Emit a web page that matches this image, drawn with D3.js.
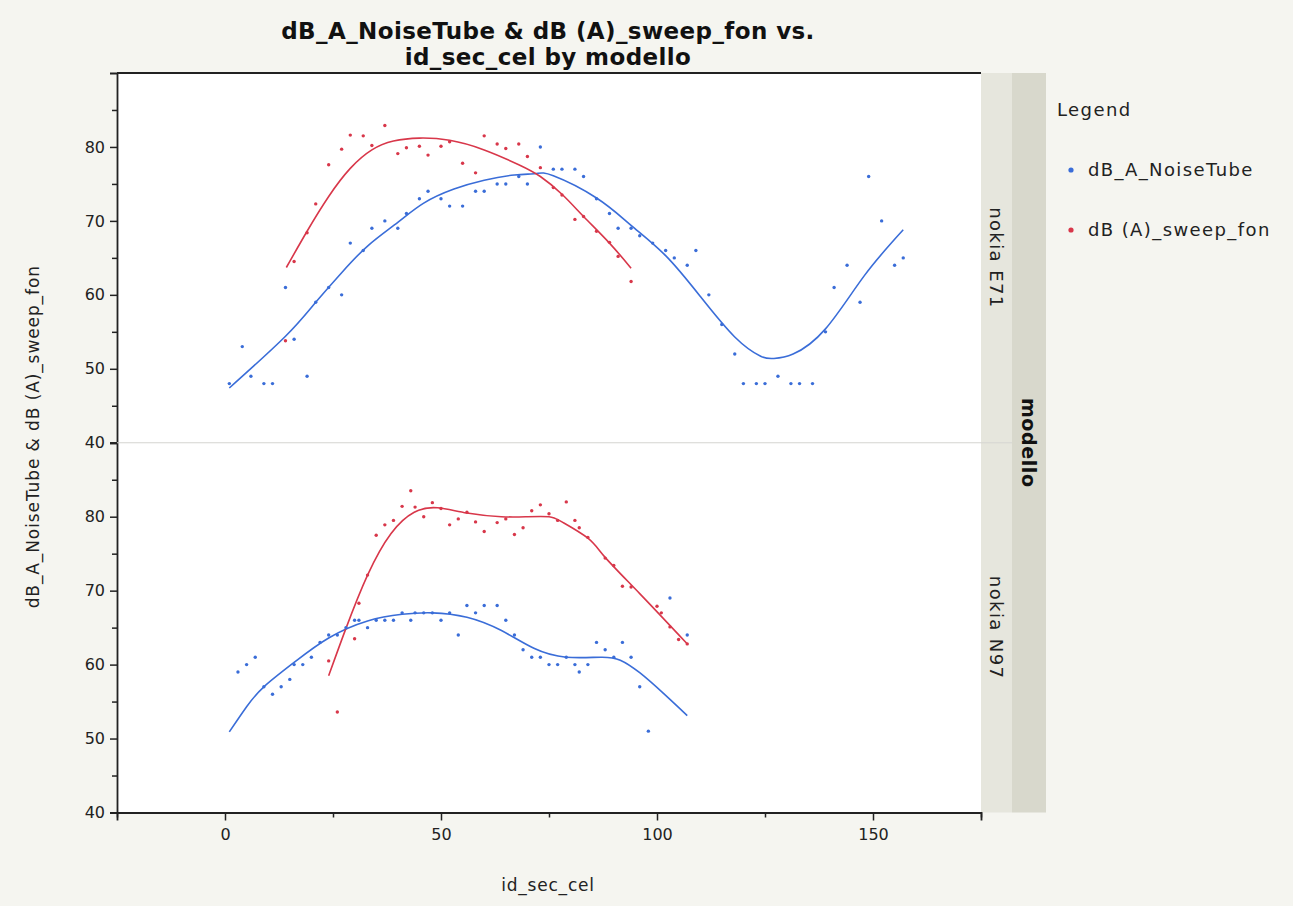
<!DOCTYPE html>
<html>
<head>
<meta charset="utf-8">
<script src="https://cdn.jsdelivr.net/npm/d3@7"></script>
<style>
  body { margin: 0; background: #f5f5f0; }
  svg { display: block; }
</style>
</head>
<body>
<div id="chart"></div>
<script>
// facets and series
const panels = ['nokia E71', 'nokia N97'];
const seriesNames = ['dB_A_NoiseTube', 'dB (A)_sweep_fon'];
const seriesColors = ['#3a6dd8', '#d8374a'];

const xTicks = [0, 50, 100, 150];
const xMinorTicks = [-25, 25, 75, 125, 175];
const yTicks = [40, 50, 60, 70, 80];
const yMinorTicks = [45, 55, 65, 75, 85];

// nokia E71 points [id_sec_cel, dB]
const e71NoiseTube = [[1,48],[4,53],[6,49],[9,48],[11,48],[14,61],[16,54],[19,49],[21,59],[24,61],
  [27,60],[29,67],[32,66],[34,69],[37,70],[40,69],[42,71],[45,73],[47,74],[50,73],[52,72],[55,72],
  [58,74],[60,74],[63,75],[65,75],[68,76],[70,75],[73,80],[76,77],[78,77],[81,77],[83,76],[86,73],
  [89,71],[91,69],[94,69],[96,68],[99,67],[102,66],[104,65],[107,64],[109,66],[112,60],[115,56],
  [118,52],[120,48],[123,48],[125,48],[128,49],[131,48],[133,48],[136,48],[139,55],[141,61],
  [144,64],[147,59],[149,76],[152,70],[155,64],[157,65]];
const e71SweepFon = [[14,53.8],[16,64.5],[19,68.4],[21,72.3],[24,77.6],[27,79.7],[29,81.6],[32,81.5],
  [34,80.2],[37,82.9],[40,79.1],[42,79.9],[45,80.1],[47,78.9],[50,80.1],[52,80.7],[55,77.8],
  [58,76.5],[60,81.5],[63,80.4],[65,79.8],[68,80.4],[70,78.7],[73,77.2],[76,74.5],[78,73.5],
  [81,70.2],[83,70.6],[86,68.6],[89,67.1],[91,65.2],[94,61.8]];

// nokia N97 points
const n97NoiseTube = [[3,59],[5,60],[7,61],[9,57],[11,56],[13,57],[15,58],[16,60],[18,60],[20,61],
  [22,63],[24,64],[26,64],[28,65],[30,66],[31,66],[33,65],[35,66],[37,66],[39,66],[41,67],[43,66],
  [44,67],[46,67],[48,67],[50,66],[52,67],[54,64],[56,68],[58,67],[60,68],[63,68],[65,66],[67,64],
  [69,62],[71,61],[73,61],[75,60],[77,60],[79,61],[81,60],[82,59],[84,60],[86,63],[88,62],[90,61],
  [92,63],[94,61],[96,57],[98,51],[103,69],[107,64]];
const n97SweepFon = [[24,60.5],[26,53.6],[30,63.5],[31,68.3],[33,72.1],[35,77.5],[37,78.9],[39,79.5],
  [41,81.4],[43,83.5],[44,81.3],[46,80],[48,81.9],[50,81.1],[52,78.9],[54,79.7],[56,80.6],[58,79.3],
  [60,78],[63,79.2],[65,79.7],[67,77.6],[69,78.5],[71,80.8],[73,81.6],[75,80.4],[77,79.5],[79,82],
  [81,79.5],[82,78.5],[84,77.2],[88,74.4],[90,73.4],[92,70.6],[94,70.5],[100,67.9],[101,67],
  [103,65.1],[105,63.4],[107,62.8]];

// smoothing fits
const e71NoiseTubeFit = [[1,47.4],[14,54.4],[21,59],[27,63],[33,66.6],[40,69.8],[46,72.4],
  [53,74.3],[60,75.5],[67,76.2],[72,76.4],[76,76.1],[86,73.1],[94,69.4],[102,65.3],
  [110,59.8],[118,54.3],[124,51.7],[127,51.4],[131.5,52],[139,55.4],[148,62.6],[157,68.8]];
const e71SweepFonFit = [[14.2,63.7],[19,68.6],[24,73.3],[29,77.1],[34,79.6],[39,80.8],[45,81.2],
  [52,80.9],[60,79.6],[68,77.6],[73,76],[78,73.6],[83,70.6],[89,67],[94,63.6]];
const n97NoiseTubeFit = [[1,50.9],[5,54.3],[9,57],[16,60.3],[24,63.6],[33,65.9],[41,66.8],
  [48,67],[56,66.4],[64,64.6],[71.5,62.2],[79,61],[87,61],[91.5,60.6],[96,58.9],
  [101.5,56.1],[107,53.1]];
const n97SweepFonFit = [[24,58.5],[28,64.9],[33,72.1],[38.4,77.7],[43.8,80.6],[49.2,81.2],[56,80.5],
  [64,80],[70,80],[75,80],[78,79.3],[84,77.1],[88,74.5],[96,69.6],[107,62.8]];

const panelPoints = [[e71NoiseTube, e71SweepFon], [n97NoiseTube, n97SweepFon]];
const panelFits = [[e71NoiseTubeFit, e71SweepFonFit], [n97NoiseTubeFit, n97SweepFonFit]];

const svgWidth = 1293;
const svgHeight = 906;
const plotLeft = 117;
const plotRight = 981;
const plotTop = 73;
const panelHeight = 369.75;
const stripWidth = 31;
const outerStripWidth = 34;

const svg = d3.select('#chart')
    .append('svg')
    .attr('width', svgWidth)
    .attr('height', svgHeight)
    .style('font-family', 'DejaVu Sans, sans-serif');

svg.append('rect')
    .attr('width', svgWidth)
    .attr('height', svgHeight)
    .attr('fill', '#f5f5f0');

const x = d3.scaleLinear().domain([-25, 175]).range([plotLeft, plotRight]);

// title
const title = svg.append('text')
    .attr('x', 548)
    .attr('text-anchor', 'middle')
    .attr('font-weight', 'bold')
    .attr('font-size', 23)
    .attr('letter-spacing', 0.4)
    .attr('fill', '#111');
title.append('tspan').attr('x', 548).attr('y', 39).text('dB_A_NoiseTube & dB (A)_sweep_fon vs.');
title.append('tspan').attr('x', 548).attr('y', 65).text('id_sec_cel by modello');

const lineGen = d3.line().curve(d3.curveNatural);

panels.forEach((panel, i) => {
    const top = plotTop + i * panelHeight;
    const y = d3.scaleLinear().domain([40, 90]).range([top + panelHeight, top]);

    svg.append('rect')
        .attr('x', plotLeft)
        .attr('y', top)
        .attr('width', plotRight - plotLeft)
        .attr('height', panelHeight)
        .attr('fill', '#ffffff');

    const g = svg.append('g');

    panelFits[i].forEach((fit, s) => {
        g.append('path')
            .attr('d', lineGen.x(d => x(d[0])).y(d => y(d[1]))(fit))
            .attr('fill', 'none')
            .attr('stroke', seriesColors[s])
            .attr('stroke-width', 1.6);
    });

    panelPoints[i].forEach((pts, s) => {
        g.selectAll(null)
            .data(pts)
            .join('circle')
            .attr('cx', d => x(d[0]))
            .attr('cy', d => y(d[1]))
            .attr('r', 1.7)
            .attr('fill', seriesColors[s]);
    });

    // y axis
    const yAxis = svg.append('g')
        .attr('transform', `translate(${plotLeft},0)`)
        .call(d3.axisLeft(y).tickValues(yTicks).tickSize(7).tickPadding(5));
    yAxis.selectAll('text').attr('font-size', 16).attr('fill', '#222')
        .attr('font-family', 'DejaVu Sans, sans-serif');
    yAxis.selectAll('line').attr('stroke', '#222').attr('stroke-width', 1.5);
    yAxis.select('.domain').attr('stroke', '#222').attr('stroke-width', 1.8);

    const yMinor = svg.append('g')
        .attr('transform', `translate(${plotLeft},0)`)
        .call(d3.axisLeft(y).tickValues(yMinorTicks).tickSize(5).tickFormat(''));
    yMinor.selectAll('line').attr('stroke', '#222').attr('stroke-width', 1.5);
    yMinor.select('.domain').remove();

    // facet strip
    svg.append('rect')
        .attr('x', plotRight)
        .attr('y', top)
        .attr('width', stripWidth)
        .attr('height', panelHeight)
        .attr('fill', '#e6e6dd');
    svg.append('text')
        .attr('transform', `translate(${plotRight + 9},${top + panelHeight / 2}) rotate(90)`)
        .attr('text-anchor', 'middle')
        .attr('font-size', 18)
        .attr('letter-spacing', 1.4)
        .attr('fill', '#222')
        .text(panel);
});

// panel divider
svg.append('line')
    .attr('x1', plotLeft)
    .attr('x2', plotRight + stripWidth)
    .attr('y1', plotTop + panelHeight)
    .attr('y2', plotTop + panelHeight)
    .attr('stroke', '#d4d4d0')
    .attr('stroke-width', 1.2);

// outer strip
svg.append('rect')
    .attr('x', plotRight + stripWidth)
    .attr('y', plotTop)
    .attr('width', outerStripWidth)
    .attr('height', panelHeight * 2)
    .attr('fill', '#d8d8cc');
svg.append('text')
    .attr('transform', `translate(${plotRight + stripWidth + 10},${plotTop + panelHeight}) rotate(90)`)
    .attr('text-anchor', 'middle')
    .attr('font-size', 19)
    .attr('font-weight', 'bold')
    .attr('letter-spacing', 0.6)
    .attr('fill', '#111')
    .text('modello');

// top border
svg.append('line')
    .attr('x1', plotLeft)
    .attr('x2', plotRight)
    .attr('y1', plotTop)
    .attr('y2', plotTop)
    .attr('stroke', '#222')
    .attr('stroke-width', 1.8);

// x axis
const plotBottom = plotTop + panelHeight * 2;
const xAxis = svg.append('g')
    .attr('transform', `translate(0,${plotBottom})`)
    .call(d3.axisBottom(x).tickValues(xTicks).tickSize(8).tickPadding(8));
xAxis.selectAll('text').attr('font-size', 16).attr('fill', '#222')
    .attr('font-family', 'DejaVu Sans, sans-serif');
xAxis.selectAll('line').attr('stroke', '#222').attr('stroke-width', 1.5);
xAxis.select('.domain').attr('stroke', '#222').attr('stroke-width', 1.8);

const xMinor = svg.append('g')
    .attr('transform', `translate(0,${plotBottom})`)
    .call(d3.axisBottom(x).tickValues(xMinorTicks).tickSize(5).tickFormat(''));
xMinor.selectAll('line').attr('stroke', '#222').attr('stroke-width', 1.5);
xMinor.select('.domain').remove();

// axis titles
svg.append('text')
    .attr('x', 548)
    .attr('y', 891)
    .attr('text-anchor', 'middle')
    .attr('font-size', 17)
    .attr('letter-spacing', 0.8)
    .attr('fill', '#222')
    .text('id_sec_cel');

svg.append('text')
    .attr('transform', `translate(39,${plotTop + panelHeight - 6}) rotate(-90)`)
    .attr('text-anchor', 'middle')
    .attr('font-size', 17)
    .attr('letter-spacing', 0.9)
    .attr('fill', '#222')
    .text('dB_A_NoiseTube & dB (A)_sweep_fon');

// legend
const legend = svg.append('g').attr('transform', 'translate(1057,0)');
legend.append('text')
    .attr('y', 116)
    .attr('font-size', 18)
    .attr('letter-spacing', 1.4)
    .attr('fill', '#222')
    .text('Legend');

seriesNames.forEach((name, i) => {
    const item = legend.append('g').attr('transform', `translate(0,${170 + i * 60})`);
    item.append('circle')
        .attr('cx', 14)
        .attr('cy', 0)
        .attr('r', 2.6)
        .attr('fill', seriesColors[i]);
    item.append('text')
        .attr('x', 31)
        .attr('y', 6)
        .attr('font-size', 18)
        .attr('letter-spacing', 1.4)
        .attr('fill', '#222')
        .text(name);
});
</script>
</body>
</html>
